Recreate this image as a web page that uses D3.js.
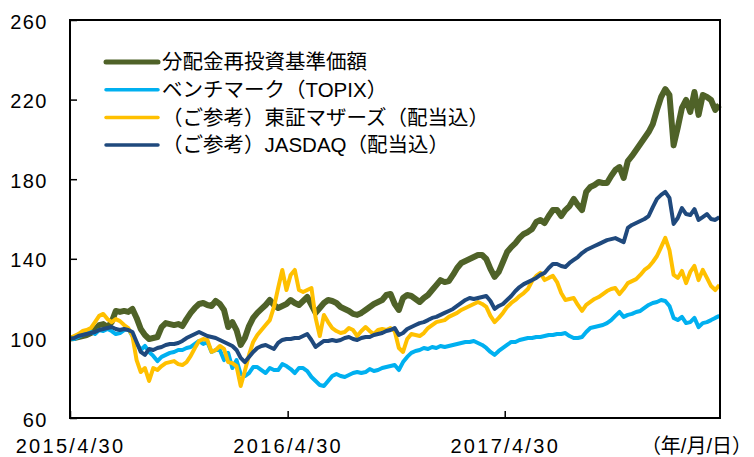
<!DOCTYPE html>
<meta charset="utf-8">
<style>
body { margin:0; background:#fff; }
svg { display:block; }
</style>
<script src="https://d3js.org/d3.v7.min.js"></script>
<body>
<script>

var width = 754, height = 457

// weekly values, first point 2015/4/30 (start = 100)
var fund = [
100,100.2,100.7,101.2,101.7,102.7,104.2,106.7,107.2,105.7,
108.2,113.8,113.3,113.8,113.3,114.8,110.3,104.7,101.7,99.7,
100.2,100.7,105.7,107.7,107.2,106.7,107.2,106.2,109.7,112.8,
115.3,117.3,117.8,116.8,116.3,118.8,117.3,114.3,105.7,108.2,
104.2,96.7,100.2,106.2,110.3,112.8,114.8,116.8,119.3,116.8,
115.3,116.3,117.3,119.3,117.8,116.8,118.8,120.8,116.8,112.8,
115.3,117.8,119.3,118.8,117.8,115.8,114.8,113.8,112.3,111.8,
112.8,114.3,115.8,117.3,118.3,119.3,121.8,122.3,117.3,114.3,
120.3,121.8,121.3,119.8,118.3,120.3,121.8,124.3,126.8,129.3,
128.3,128.8,131.9,135.4,137.9,138.9,139.9,140.9,141.9,141.9,
139.9,134.9,130.9,133.4,138.4,143.4,145.9,147.9,150.5,152.5,
153.5,155.0,158.5,159.5,158.0,161.5,164.5,164.5,161.5,164.5,
166.5,170.1,167.0,164.5,173.6,176.1,177.1,178.6,178.1,178.1,
181.6,184.6,186.1,180.6,189.1,191.7,194.7,197.7,200.7,203.7,
207.7,214.8,221.3,225.3,222.3,197.0,206.0,215.8,219.8,213.8,
223.8,212.3,222.3,221.3,219.8,214.8,217.3]

var topix = [
100,99.7,100.7,101.7,102.7,103.2,102.2,104.2,103.7,104.7,
103.7,102.2,102.7,104.2,104.7,101.2,97.7,94.2,96.2,93.2,
91.2,88.6,90.7,91.7,92.7,93.2,94.2,94.2,95.2,95.7,
97.2,98.7,97.2,98.2,93.2,94.2,94.2,89.1,92.7,85.1,
89.1,82.1,81.1,82.6,85.6,85.6,84.1,82.6,85.1,84.1,
84.1,87.1,86.1,84.6,82.6,85.1,85.1,83.6,80.6,78.6,
76.6,76.1,78.6,81.1,82.1,81.1,80.6,81.6,82.6,83.1,
82.6,83.1,84.6,83.6,84.1,85.1,85.6,86.1,86.6,84.1,
88.1,90.7,92.7,93.7,94.2,95.2,94.7,95.7,95.2,96.2,
95.7,96.2,96.7,97.2,97.7,98.2,98.2,98.7,97.7,96.7,
95.2,93.2,91.7,93.7,95.2,96.7,98.2,98.2,99.2,99.7,
100.2,100.2,100.7,100.7,101.2,101.7,101.7,102.2,102.2,102.7,
101.2,100.2,100.2,100.7,103.2,105.2,105.7,106.2,106.7,107.7,
109.2,111.3,113.3,110.8,111.8,112.3,113.3,113.8,115.3,116.8,
117.8,118.3,119.3,118.8,116.3,110.3,109.2,110.8,107.7,108.2,
110.3,105.7,107.7,108.2,109.2,110.3,111.3]

var mothers = [
100,101.2,102.2,103.7,104.2,105.2,108.2,111.3,112.3,109.7,
108.2,109.7,108.7,106.7,105.2,101.2,89.1,83.1,85.1,78.6,
85.1,84.1,86.1,87.6,88.1,88.6,87.1,86.6,88.1,91.2,
95.2,98.7,99.7,99.2,93.2,94.2,96.2,94.7,88.1,87.6,
86.1,76.1,83.6,91.7,98.2,101.7,104.2,106.7,109.2,115.8,
125.3,134.4,124.3,131.9,134.4,124.3,123.3,124.3,125.3,110.3,
101.2,111.8,108.2,105.2,103.7,102.7,103.2,105.2,104.2,101.2,
103.7,105.7,103.7,102.2,104.2,104.7,104.2,105.2,103.7,95.2,
93.2,99.7,102.2,101.7,101.2,102.7,105.2,106.7,108.2,108.7,
109.2,110.8,111.8,112.8,114.3,115.3,116.3,117.3,118.3,117.3,
115.8,111.3,108.2,110.3,112.8,115.8,117.8,119.3,121.3,122.8,
124.8,128.8,131.4,132.9,129.3,130.4,131.4,128.3,122.8,119.3,
119.8,120.3,116.8,113.8,116.8,118.3,119.8,120.8,122.3,123.8,
124.8,125.3,122.3,124.8,127.8,128.8,129.8,131.9,134.4,135.9,
138.4,141.4,145.9,150.5,144.4,131.9,130.4,133.9,127.8,133.4,
136.4,129.3,134.4,130.4,126.3,124.3,126.8]

var jasdaq = [
100,100.2,101.2,101.7,102.2,102.7,103.2,104.2,104.7,105.2,
105.7,104.7,104.2,104.7,104.2,103.2,98.2,93.2,91.7,94.7,
94.2,95.2,95.7,96.7,97.2,97.2,97.7,98.7,100.2,101.2,
102.2,103.2,102.2,101.2,100.7,100.2,99.2,98.2,97.2,96.2,
94.2,90.2,88.1,90.7,93.2,95.2,96.2,96.7,95.7,94.7,
97.7,99.2,99.7,99.7,100.2,100.2,101.2,102.2,99.2,95.7,
97.2,98.7,98.7,99.2,98.7,99.2,100.2,100.7,99.7,99.2,
100.2,100.7,100.7,101.7,102.2,102.7,103.7,104.2,105.2,101.7,
102.7,104.7,105.7,106.7,107.7,108.2,109.2,110.3,110.8,111.8,
112.8,113.8,114.8,116.3,117.8,119.3,120.3,119.8,120.3,120.8,
121.3,118.8,114.8,116.3,117.3,119.3,121.3,123.8,125.8,127.3,
128.3,129.3,130.4,131.9,132.9,135.4,137.4,137.4,136.4,135.9,
137.9,139.4,140.9,142.9,144.4,145.4,146.4,147.4,148.4,149.4,
149.9,150.4,149.4,148.4,155.5,157.0,158.0,159.0,160.0,161.5,
166.0,170.1,172.1,173.6,170.6,157.5,160.5,165.5,162.5,162.0,
165.0,159.5,161.0,162.5,160.0,159.5,161.0]

var names = ['分配金再投資基準価額','ベンチマーク（TOPIX）','（ご参考）東証マザーズ（配当込）','（ご参考）JASDAQ（配当込）']
var colors = ['#4F6228','#00B0F0','#FFC000','#1F497D']
var widths = [6,4,4,4]
var yTicks = [60,100,140,180,220,260]
var xTickLabels = ['2015/4/30','2016/4/30','2017/4/30']

var parse = d3.timeParse('%Y/%m/%d')
var start = parse('2015/4/30')
var dates = fund.map((d,i)=> d3.timeDay.offset(start, 7*i))

var x = d3.scaleTime().domain([start, parse('2018/4/27')]).range([70,720])
var y = d3.scaleLinear().domain([60,260]).range([418,20])

var svg = d3.select('body').append('svg').attr('width',width).attr('height',height)

var numFont = 'Liberation Sans, Arial, sans-serif'
var jpFont = 'Liberation Sans, Noto Sans CJK JP, sans-serif'

// y axis
var ya = svg.append('g').attr('transform','translate(70,0)')
.call(d3.axisLeft(y).tickValues(yTicks).tickSize(-7).tickPadding(22))
ya.select('.domain').remove()
ya.selectAll('line').attr('stroke','#000').attr('stroke-width',1.5)
ya.selectAll('text').attr('font-size',20).attr('font-family',numFont).attr('fill','#000')
.attr('letter-spacing','1.5px').attr('dy','0.4em')

// x axis
var xa = svg.append('g').attr('transform','translate(0,418)')
.call(d3.axisBottom(x).tickValues(xTickLabels.map(parse)).tickSize(-7).tickPadding(21)
.tickFormat(d3.timeFormat('%Y/%-m/%-d')))
xa.select('.domain').remove()
xa.selectAll('line').attr('stroke','#000').attr('stroke-width',1.5)
xa.selectAll('text').attr('font-size',20).attr('font-family',numFont).attr('fill','#000')
.attr('letter-spacing','2.3px')

svg.append('text').attr('x',752).attr('y',453).attr('text-anchor','end')
.attr('font-size',20).attr('font-family',jpFont).text('（年/月/日）')

// lines
var line = d3.line().x((d,i)=>x(dates[i])).y(d=>y(d))
var series = [fund, topix, mothers, jasdaq]
series.forEach((s,k)=>{
  svg.append('path').datum(s)
  .attr('d',line)
  .attr('fill','none')
  .attr('stroke',colors[k])
  .attr('stroke-width',widths[k])
  .attr('stroke-linejoin','round')
})

// frame
svg.append('rect').attr('x',70).attr('y',20).attr('width',650).attr('height',398)
.attr('fill','none').attr('stroke','#000').attr('stroke-width',2)

// legend
var leg = svg.append('g')
names.forEach((n,k)=>{
  var ly = 62 + k*27.7
  leg.append('line').attr('x1',106).attr('x2',158).attr('y1',ly).attr('y2',ly)
  .attr('stroke',colors[k]).attr('stroke-width',k==0?5:3.5).attr('stroke-linecap','round')
  leg.append('text').attr('x',162).attr('y',ly).attr('dy','0.36em')
  .attr('font-size',20.5).attr('font-family',jpFont).text(n)
})

</script>
